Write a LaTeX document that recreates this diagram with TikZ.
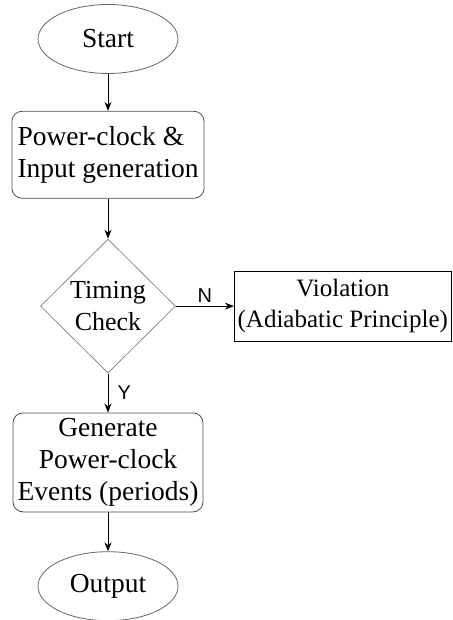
\documentclass[tikz,border=0pt]{standalone}
\usepackage{fontspec}
\setmainfont{Liberation Serif}
\newfontfamily\branchfont{Liberation Sans}
\usetikzlibrary{arrows.meta, positioning, shapes.geometric}

\begin{document}
\begin{tikzpicture}[>={Stealth[length=9pt,width=7pt]}, line width=0.8pt,
  terminal/.style={draw=black!60, ellipse, inner sep=0pt,
    minimum width=140pt, minimum height=69pt,
    font=\fontsize{27.5}{32}\selectfont},
  process/.style={draw=black!70, rounded corners=10pt, inner sep=0pt,
    font=\fontsize{27.5}{32}\selectfont},
  decision/.style={draw=black!45, diamond, aspect=1, inner sep=0pt,
    minimum width=135pt, minimum height=134pt, align=center,
    font=\fontsize{26}{32}\selectfont},
  result/.style={draw, inner sep=0pt, minimum width=217pt,
    minimum height=70pt, align=center, font=\fontsize{25}{31}\selectfont},
  branch/.style={font=\branchfont\fontsize{20}{22}\selectfont}
 ]
 \useasboundingbox (0,0) rectangle (452pt,-620pt);

 \node [terminal] (start) at (108pt,-39pt) {Start};
 \node [process, below=37pt of start, minimum width=192pt,
   minimum height=87pt, align=left] (power) {Power-clock \&\\Input generation};
 \node [decision, below=40pt of power] (check) {Timing\\Check};
 \node [result, right=58pt of check] (violation) {Violation\\(Adiabatic Principle)};
 \node [process, below=39pt of check, minimum width=190pt,
   minimum height=99pt, align=center] (events) {Generate\\Power-clock\\Events (periods)};
 \node [terminal, below=39pt of events] (output) {Output};

 \draw [->] (start) -- (power);
 \draw [->] (power) -- (check);
 \draw [->] (check) -- node [branch, above] {N} (violation);
 \draw [->] (check) -- node [branch, right, xshift=6pt] {Y} (events);
 \draw [->] (events) -- (output);
\end{tikzpicture}
\end{document}
